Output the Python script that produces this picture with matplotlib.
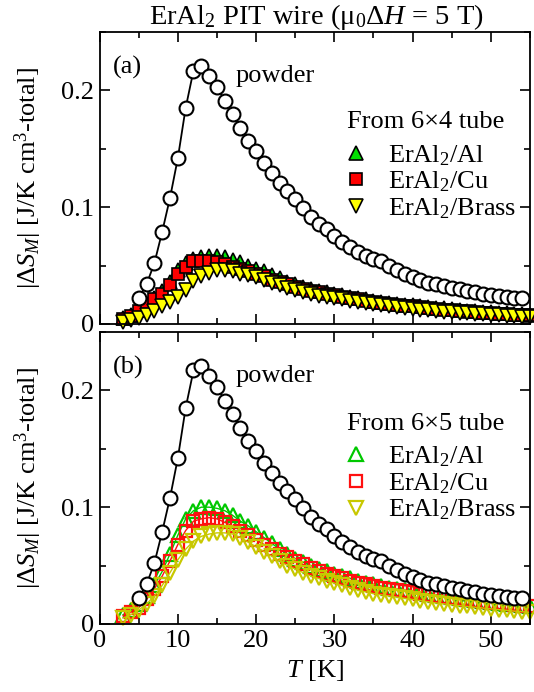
import matplotlib
matplotlib.use('Agg')
import matplotlib.pyplot as plt
from matplotlib.ticker import MultipleLocator, FormatStrFormatter

plt.rcParams['font.family'] = ['Liberation Serif', 'DejaVu Serif']
plt.rcParams['mathtext.fontset'] = 'custom'
plt.rcParams['mathtext.rm'] = 'Liberation Serif'
plt.rcParams['mathtext.it'] = 'Liberation Serif:italic'
plt.rcParams['mathtext.bf'] = 'Liberation Serif:bold'

# powder reference, T = 5..54 K
T_powder = list(range(5, 55))
S_powder = [0.022, 0.034, 0.052, 0.079, 0.108, 0.142, 0.185, 0.217, 0.221, 0.212,
            0.203, 0.191, 0.180, 0.168, 0.157, 0.148, 0.138, 0.129, 0.121, 0.114,
            0.107, 0.099, 0.092, 0.086, 0.081, 0.075, 0.070, 0.066, 0.062, 0.058,
            0.056, 0.054, 0.050, 0.046, 0.043, 0.040, 0.0375, 0.0355, 0.034, 0.0325,
            0.031, 0.0298, 0.0285, 0.0278, 0.026, 0.025, 0.024, 0.0232, 0.0225, 0.022]

# wires, T = 3..55 K
T_wire = list(range(3, 56))

# (a) from 6x4 tube
Al_a = [0.005, 0.008, 0.012, 0.017, 0.022, 0.028, 0.036, 0.046, 0.052, 0.056,
        0.057, 0.058, 0.058, 0.057, 0.055, 0.053, 0.050, 0.047, 0.045, 0.042,
        0.039, 0.036, 0.034, 0.032, 0.030, 0.028, 0.027, 0.026, 0.025, 0.0235,
        0.022, 0.021, 0.020, 0.019, 0.018, 0.017, 0.0165, 0.016, 0.0153, 0.0146,
        0.014, 0.0133, 0.0127, 0.012, 0.0115, 0.011, 0.0105, 0.010, 0.0096, 0.0092,
        0.0088, 0.0084, 0.008]
Cu_a = [0.004, 0.007, 0.011, 0.016, 0.021, 0.026, 0.033, 0.043, 0.049, 0.054,
        0.054, 0.054, 0.053, 0.051, 0.049, 0.047, 0.045, 0.043, 0.041, 0.038,
        0.036, 0.034, 0.032, 0.030, 0.028, 0.027, 0.0255, 0.0245, 0.0235, 0.0225,
        0.021, 0.020, 0.019, 0.018, 0.017, 0.016, 0.0155, 0.015, 0.0143, 0.0136,
        0.013, 0.0124, 0.0118, 0.0113, 0.0108, 0.0103, 0.0098, 0.0093, 0.0089, 0.0085,
        0.0081, 0.0077, 0.0073]
Brass_a = [0.002, 0.003, 0.005, 0.008, 0.011, 0.015, 0.019, 0.023, 0.029, 0.037,
           0.041, 0.044, 0.046, 0.046, 0.045, 0.043, 0.042, 0.040, 0.038, 0.035,
           0.033, 0.031, 0.029, 0.027, 0.026, 0.024, 0.023, 0.022, 0.021, 0.020,
           0.019, 0.018, 0.017, 0.016, 0.0152, 0.0144, 0.0137, 0.013, 0.0124, 0.0118,
           0.0112, 0.0106, 0.010, 0.0096, 0.0092, 0.0088, 0.0084, 0.008, 0.0076, 0.0072,
           0.0068, 0.0064, 0.006]

# (b) from 6x5 tube
Al_b = [0.008, 0.012, 0.017, 0.024, 0.033, 0.045, 0.060, 0.076, 0.090, 0.097,
        0.100, 0.100, 0.099, 0.097, 0.093, 0.088, 0.084, 0.079, 0.074, 0.069,
        0.064, 0.060, 0.056, 0.053, 0.050, 0.047, 0.045, 0.043, 0.041, 0.039,
        0.037, 0.0355, 0.034, 0.0325, 0.031, 0.030, 0.029, 0.028, 0.027, 0.026,
        0.025, 0.024, 0.023, 0.022, 0.021, 0.0205, 0.020, 0.019, 0.018, 0.0175,
        0.017, 0.016, 0.0155]
Cu_b = [0.007, 0.010, 0.014, 0.021, 0.030, 0.041, 0.054, 0.068, 0.080, 0.088,
        0.090, 0.091, 0.090, 0.087, 0.084, 0.080, 0.076, 0.072, 0.068, 0.064,
        0.060, 0.057, 0.054, 0.051, 0.048, 0.045, 0.043, 0.041, 0.039, 0.037,
        0.035, 0.034, 0.0325, 0.031, 0.030, 0.029, 0.028, 0.027, 0.026, 0.025,
        0.024, 0.023, 0.022, 0.0213, 0.0205, 0.020, 0.019, 0.0183, 0.0176, 0.017,
        0.0164, 0.0158, 0.0152]
Brass_b = [0.005, 0.008, 0.012, 0.017, 0.024, 0.033, 0.044, 0.055, 0.064, 0.071,
           0.075, 0.077, 0.078, 0.078, 0.077, 0.074, 0.070, 0.066, 0.062, 0.058,
           0.054, 0.050, 0.047, 0.044, 0.041, 0.039, 0.037, 0.035, 0.033, 0.031,
           0.029, 0.0275, 0.026, 0.025, 0.024, 0.023, 0.022, 0.021, 0.020, 0.019,
           0.018, 0.0172, 0.0165, 0.0157, 0.015, 0.0143, 0.0136, 0.013, 0.0123, 0.0117,
           0.011, 0.0105, 0.010]

labels = ['ErAl$_2$/Al', 'ErAl$_2$/Cu', 'ErAl$_2$/Brass']
markers = ['^', 's', 'v']
fill_colors = ['#00e000', '#ff0000', '#ffff00']
open_colors = ['#00c800', '#ff1010', '#c8c800']

fig = plt.figure(figsize=(5.34, 6.92), dpi=100)
ax1 = fig.add_axes([0.1865, 0.5318, 0.806, 0.422])
ax2 = fig.add_axes([0.1865, 0.0983, 0.806, 0.422])

FS = 19

for ax, series, tube, tag, filled, ytube, yleg in [
        (ax1, [Al_a, Cu_a, Brass_a], 'From 6×4 tube', '(a)', True, 0.69, 0.62),
        (ax2, [Al_b, Cu_b, Brass_b], 'From 6×5 tube', '(b)', False, 0.685, 0.615)]:
    ax.plot(T_powder, S_powder, '-', color='black', lw=1.3, marker='o', ms=10,
            mfc='white', mec='black', mew=1.5, clip_on=False, zorder=3)
    for ys, lab, mk, fc, oc in zip(series, labels, markers, fill_colors, open_colors):
        size = 8.5 if mk == 's' else 10
        if filled:
            ax.plot(T_wire, ys, '-', color=fc, lw=1.0, zorder=2, clip_on=False)
            ax.plot(T_wire, ys, ls='none', marker=mk, ms=size,
                    mfc=fc, mec='black', mew=1.2, label=lab, clip_on=False, zorder=2)
        else:
            ax.plot(T_wire, ys, '-', color=oc, lw=1.0, zorder=2, clip_on=False)
            ax.plot(T_wire, ys, ls='none', marker=mk, ms=size,
                    mfc='none', mec=oc, mew=1.6, label=lab, clip_on=False, zorder=2)

    ax.set_xlim(0, 55)
    ax.set_ylim(0, 0.25)
    ax.xaxis.set_major_locator(MultipleLocator(10))
    ax.xaxis.set_minor_locator(MultipleLocator(5))
    ax.yaxis.set_major_locator(MultipleLocator(0.1))
    ax.yaxis.set_minor_locator(MultipleLocator(0.05))
    ax.yaxis.set_major_formatter(FormatStrFormatter('%g'))
    ax.tick_params(which='both', direction='in', top=True, right=True,
                   labelsize=FS, width=1.2, pad=4)
    ax.tick_params(which='major', length=7)
    ax.tick_params(which='minor', length=4)
    for sp in ax.spines.values():
        sp.set_linewidth(1.3)

    ax.set_ylabel(r'$|\Delta S_M|$ [J/K cm$^3$-total]', fontsize=FS)
    ax.yaxis.set_label_coords(-0.13, 0.5)

    ax.text(0.03, 0.877, tag, transform=ax.transAxes, fontsize=FS, va='center')
    ax.text(0.317, 0.85, 'powder', transform=ax.transAxes, fontsize=FS, va='center')
    ax.text(0.575, ytube, tube, transform=ax.transAxes, fontsize=FS, va='center')
    ax.legend(loc='upper left', bbox_to_anchor=(0.565, yleg),
              frameon=False, fontsize=FS, handlelength=1.0, handletextpad=0.7,
              labelspacing=0.08, borderaxespad=0, borderpad=0)

ax1.tick_params(labelbottom=False)
ax2.set_xlabel('$T$ [K]', fontsize=FS)
ax2.xaxis.set_label_coords(0.5, -0.115)

fig.text(0.593, 0.976, r'ErAl$_2$ PIT wire (μ$_0$Δ$H$ = 5 T)', ha='center',
         va='center', fontsize=20.5)

fig.savefig('out.png', dpi=100)
